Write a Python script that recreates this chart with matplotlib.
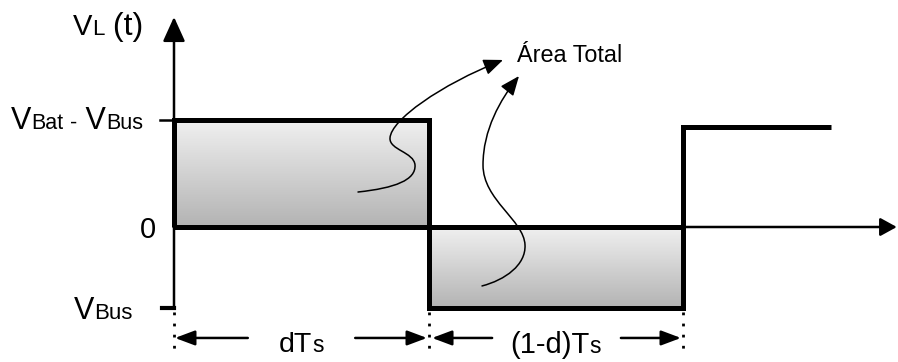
import numpy as np
import matplotlib
matplotlib.use("Agg")
import matplotlib.pyplot as plt
from matplotlib.colors import LinearSegmentedColormap
from matplotlib.offsetbox import HPacker, TextArea, AnnotationBbox
from matplotlib.patches import FancyArrowPatch
from matplotlib.path import Path

FONT = "Liberation Sans"

# ---- waveform data (time in units of Ts, voltage normalised to V_high) ----
Ts = 1.0
d = 0.5
t_end = 1.29
V_high = 1.0
V_low = -0.757
V_high2 = 0.935

wave_t = [0, 0, d * Ts, d * Ts, Ts, Ts, t_end]
wave_v = [0, V_high, V_high, V_low, V_low, V_high2, V_high2]

# axis extents
x_axis_end = 1.42
y_axis_top = 1.963
tick_len = 0.0275

# annotation curves (cubic Bezier control points, data units)
curve1 = [(0.3615, 0.327), (0.4342, 0.364), (0.4754, 0.439), (0.4735, 0.579),
          (0.4715, 0.701), (0.4224, 0.720), (0.4244, 0.832),
          (0.4263, 1.000), (0.5226, 1.327), (0.6464, 1.561)]
curve2 = [(0.6051, -0.551), (0.6503, -0.495), (0.6916, -0.355), (0.6896, -0.168),
          (0.6876, 0.065), (0.6071, 0.252), (0.6071, 0.579),
          (0.6071, 0.907), (0.6405, 1.187), (0.6778, 1.411)]

# dimension arrows
dim_y = -1.037
dim_arrows = [(0.145, 0.002), (0.356, 0.497), (0.625, 0.507), (0.878, 0.996)]
dot_x = [0, d * Ts, Ts]
dot_y = (-0.794, -1.206)

fig = plt.figure(figsize=(8.98, 3.62), dpi=100)
ax = fig.add_axes([0, 0, 1, 1])
ax.set_axis_off()

# gradient fills
cmap = LinearSegmentedColormap.from_list("g", ["#f0f0f0", "#b3b3b3"])
grad = np.linspace(0, 1, 256).reshape(-1, 1)
ax.imshow(grad, extent=(0, d * Ts, 0, V_high), cmap=cmap, aspect="auto",
          origin="upper", zorder=1, interpolation="bicubic")
ax.imshow(grad, extent=(d * Ts, Ts, V_low, 0), cmap=cmap, aspect="auto",
          origin="upper", zorder=1, interpolation="bicubic")

# axes with arrows
ax.annotate("", xy=(0, y_axis_top), xytext=(0, V_low),
            arrowprops=dict(arrowstyle="-|>,head_length=1.5,head_width=0.68",
                            mutation_scale=10, lw=1.8, color="black",
                            shrinkA=0, shrinkB=0), zorder=3)
ax.annotate("", xy=(x_axis_end, 0), xytext=(0, 0),
            arrowprops=dict(arrowstyle="-|>,head_length=1.0,head_width=0.55",
                            mutation_scale=10, lw=1.8, color="black",
                            shrinkA=0, shrinkB=0), zorder=3)

# ticks
ax.plot([-tick_len, 0], [V_high, V_high], color="black", lw=1.8, zorder=4)
ax.plot([-tick_len * 0.85, 0], [V_low, V_low], color="black", lw=3.0, zorder=4)

# thick waveform
ax.plot(wave_t, wave_v, color="black", lw=3.6, solid_joinstyle="miter",
        solid_capstyle="butt", zorder=5)
ax.plot([0, Ts], [0, 0], color="black", lw=3.6, solid_capstyle="butt", zorder=5)

# dotted boundaries
for x in dot_x:
    ax.plot([x, x], dot_y, color="black", lw=2.0, linestyle=(0, (1, 3)),
            dash_capstyle="butt", zorder=4)

# dimension arrows
for x0, x1 in dim_arrows:
    ax.annotate("", xy=(x1, dim_y), xytext=(x0, dim_y),
                arrowprops=dict(arrowstyle="-|>,head_length=1.2,head_width=0.45",
                                mutation_scale=10, lw=1.8, color="black",
                                shrinkA=0, shrinkB=0), zorder=4)

# curved annotation arrows
codes = [Path.MOVETO] + [Path.CURVE4] * 9
for pts in (curve1, curve2):
    p = Path(pts, codes)
    arr = FancyArrowPatch(path=p, arrowstyle="-|>,head_length=0.85,head_width=0.35",
                          mutation_scale=14, lw=1.1, color="black", zorder=6)
    ax.add_patch(arr)


def label(pieces, xy, align):
    kids = [TextArea(s, textprops=dict(fontsize=fs, family=FONT, color="black"))
            for s, fs in pieces]
    box = HPacker(children=kids, align="baseline", pad=0, sep=0)
    ab = AnnotationBbox(box, xy, xycoords="data", box_alignment=align,
                        frameon=False, pad=0, zorder=7)
    ax.add_artist(ab)


label([("V", 21), ("L", 16), (" (t)", 23)], (-0.199, 1.865), (0, 0.5))
label([("V", 22), ("Bat", 15.5), (" -", 15.5), (" V", 22), ("Bus", 15.5)],
      (-0.061, V_high - 0.01), (1, 0.5))
label([("0", 21)], (-0.051, -0.03), (0.5, 0.5))
label([("V", 22), ("Bus", 16)], (-0.197, V_low - 0.03), (0, 0.5))
label([("Área Total", 16.8)], (0.674, 1.60), (0, 0.5))
label([("dT", 20.5), ("s", 16.5)], (d * Ts / 2, -1.10), (0.5, 0.5))
label([("(1-d)T", 21), ("s", 16.5)], ((d * Ts + Ts) / 2, -1.10), (0.5, 0.5))

ax.set_xlim(-174 / 509, 724 / 509)
ax.set_ylim(-135 / 107, 227 / 107)

fig.savefig("out.png", dpi=100)
